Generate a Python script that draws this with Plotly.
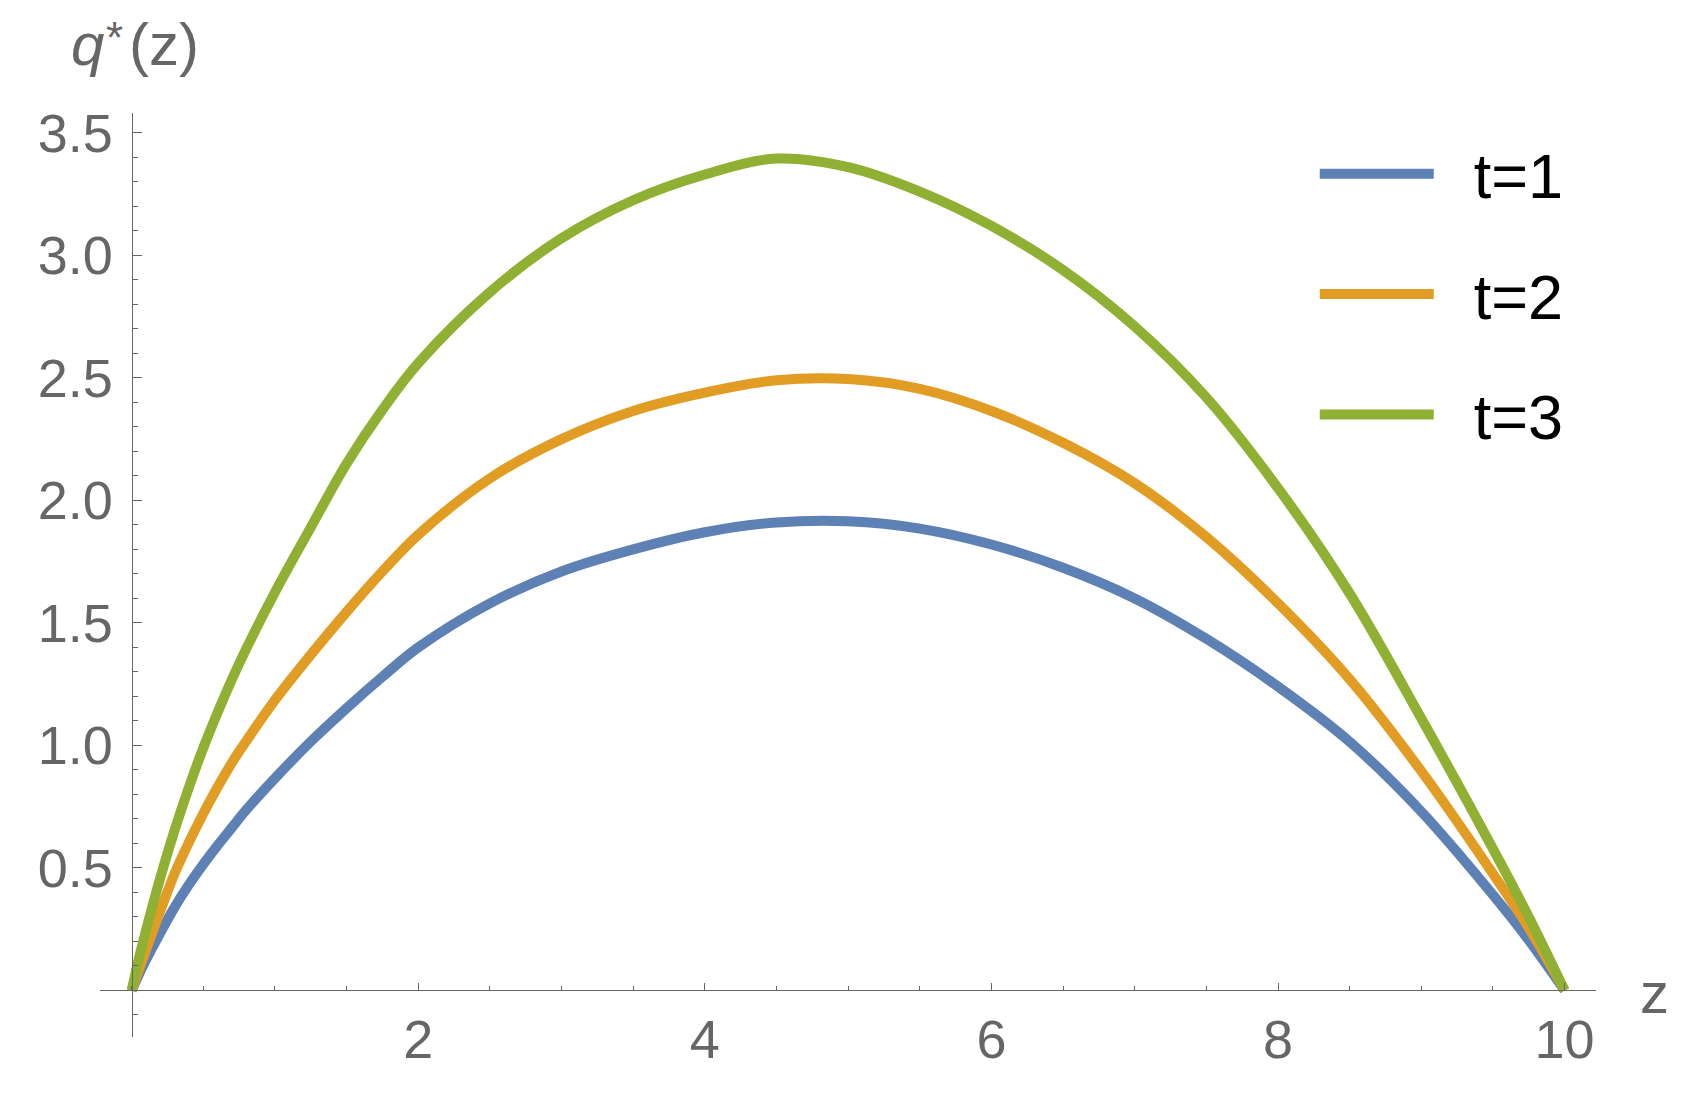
import plotly.graph_objects as go

# ---- data ----
z_t1 = [0, 0.05, 0.1, 0.2, 0.3, 0.4, 0.5, 0.6, 0.7, 0.8, 1.0, 1.25, 1.5, 1.75, 2.0, 2.5, 3.0, 3.5,
        4.0, 4.5, 5.0, 5.5, 6.0, 6.5, 7.0, 7.5, 8.0, 8.5, 9.0, 9.5, 9.75, 10.0]
q_t1 = [0, 0.065, 0.125, 0.235, 0.34, 0.432, 0.515, 0.592, 0.665, 0.737, 0.866, 1.016, 1.152, 1.28,
        1.40, 1.58, 1.71, 1.80, 1.87, 1.91, 1.915, 1.885, 1.82, 1.725, 1.60, 1.435, 1.24, 1.015, 0.73,
        0.39, 0.205, 0]

z_t2 = [0, 0.05, 0.1, 0.2, 0.3, 0.4, 0.5, 0.6, 0.7, 0.8, 1.0, 1.25, 1.5, 1.75, 2.0, 2.5, 3.0, 3.5,
        4.0, 4.5, 5.0, 5.5, 6.0, 6.5, 7.0, 7.5, 8.0, 8.5, 9.0, 9.5, 9.75, 10.0]
q_t2 = [0, 0.085, 0.165, 0.325, 0.478, 0.605, 0.722, 0.83, 0.93, 1.018, 1.185, 1.37, 1.545, 1.71,
        1.86, 2.09, 2.25, 2.365, 2.44, 2.49, 2.495, 2.455, 2.365, 2.235, 2.07, 1.85, 1.58, 1.27, 0.895,
        0.476, 0.255, 0]

z_t3 = [0, 0.05, 0.1, 0.2, 0.3, 0.4, 0.5, 0.6, 0.7, 0.8, 1.0, 1.25, 1.5, 1.75, 2.0, 2.5, 3.0, 3.5,
        4.0, 4.5, 5.0, 5.5, 6.0, 6.5, 7.0, 7.5, 8.0, 8.5, 9.0, 9.5, 9.75, 10.0]
q_t3 = [0, 0.13, 0.245, 0.46, 0.655, 0.83, 0.99, 1.135, 1.27, 1.395, 1.625, 1.89, 2.15, 2.37,
        2.56, 2.85, 3.07, 3.225, 3.33, 3.395, 3.36, 3.26, 3.12, 2.94, 2.71, 2.42, 2.05, 1.62, 1.11,
        0.578, 0.30, 0]

series_names = ["t=1", "t=2", "t=3"]
series_colors = ["#5E81B5", "#E19C24", "#8FB032"]

x_tickvals = [2, 4, 6, 8, 10]
y_tickvals = [0.5, 1.0, 1.5, 2.0, 2.5, 3.0, 3.5]
y_ticktext = ["0.5", "1.0", "1.5", "2.0", "2.5", "3.0", "3.5"]

X_RANGE = [-0.221, 10.219]
Y_RANGE = [-0.190, 3.581]

AXIS_GRAY = "#666666"
FONT = "Arial, Liberation Sans, sans-serif"
GAP = "\u00a0\u00a0"  # space between legend key and label

fig = go.Figure()
for zs, qs, name, col in zip([z_t1, z_t2, z_t3], [q_t1, q_t2, q_t3], series_names, series_colors):
    fig.add_trace(go.Scatter(
        x=zs, y=qs, mode="lines", name=GAP + name, legendgroup=name,
        line=dict(color=col, width=10, shape="spline", smoothing=1.0),
        cliponaxis=False,
    ))

x_pos = (0 - X_RANGE[0]) / (X_RANGE[1] - X_RANGE[0])
y_pos = (0 - Y_RANGE[0]) / (Y_RANGE[1] - Y_RANGE[0])

label_font = dict(size=60, color=AXIS_GRAY, family=FONT)

fig.update_layout(
    width=1693, height=1097,
    margin=dict(l=92, r=105, t=105, b=68, autoexpand=False),
    paper_bgcolor="white", plot_bgcolor="white",
    font=dict(family=FONT, color=AXIS_GRAY),
    xaxis=dict(
        range=X_RANGE, anchor="free", position=y_pos, automargin=False,
        showgrid=False, zeroline=False, showline=True, linecolor=AXIS_GRAY, linewidth=1.3,
        tickvals=x_tickvals, ticks="inside", ticklen=7, tickwidth=1.3, tickcolor=AXIS_GRAY,
        tickfont=dict(size=54, color=AXIS_GRAY, family=FONT), ticklabelstandoff=2,
        minor=dict(tick0=0, dtick=0.5, ticks="inside", ticklen=4, tickwidth=1.3,
                   tickcolor=AXIS_GRAY, showgrid=False),
    ),
    yaxis=dict(
        range=Y_RANGE, anchor="free", position=x_pos, automargin=False,
        showgrid=False, zeroline=False, showline=True, linecolor=AXIS_GRAY, linewidth=1.3,
        tickvals=y_tickvals, ticktext=y_ticktext, ticks="inside", ticklen=9, tickwidth=1.3,
        tickcolor=AXIS_GRAY, tickfont=dict(size=54, color=AXIS_GRAY, family=FONT),
        ticklabelstandoff=8,
        minor=dict(tick0=0, dtick=0.1, ticks="inside", ticklen=5.5, tickwidth=1.3,
                   tickcolor=AXIS_GRAY, showgrid=False),
    ),
    showlegend=True,
    legend=dict(
        x=0.812, y=0.9857, xanchor="left", yanchor="top",
        font=dict(size=63, color="black", family=FONT),
        itemwidth=114, tracegroupgap=35.5, bgcolor="rgba(0,0,0,0)", borderwidth=0,
    ),
    annotations=[
        # y-axis label  q*(z)
        dict(text="<i>q</i>", xref="paper", yref="paper", x=-0.0205, y=1.074,
             xanchor="left", yanchor="middle", showarrow=False, font=label_font),
        dict(text="*", xref="paper", yref="paper", x=0.0098, y=1.0815,
             xanchor="center", yanchor="middle", showarrow=False,
             font=dict(size=44, color=AXIS_GRAY, family=FONT)),
        dict(text="(z)", xref="paper", yref="paper", x=0.0180, y=1.074,
             xanchor="left", yanchor="middle", showarrow=False, font=label_font),
        # x-axis label
        dict(text="z", xref="paper", yref="paper", x=1.0394, y=0.0487,
             xanchor="center", yanchor="middle", showarrow=False,
             font=dict(size=58, color=AXIS_GRAY, family=FONT)),
    ],
)

fig.write_html("out.html")
